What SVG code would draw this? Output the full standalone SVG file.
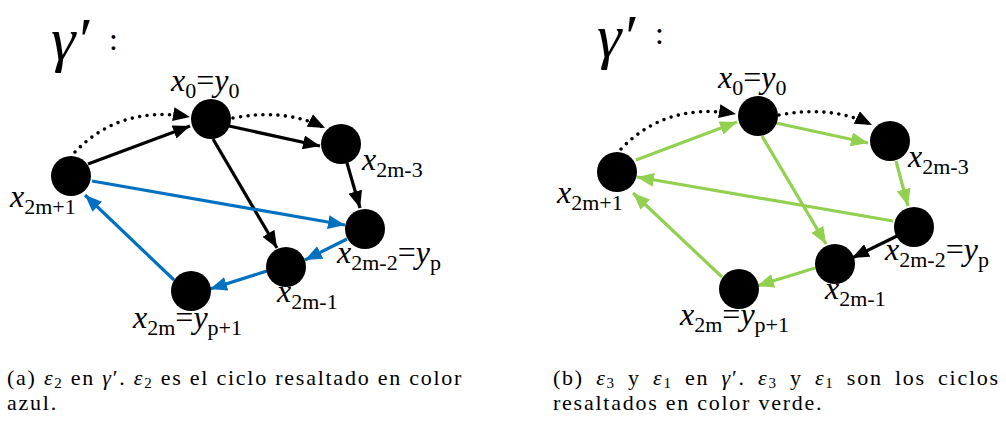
<svg xmlns="http://www.w3.org/2000/svg" width="1006" height="424" viewBox="0 0 1006 424">
<style>
text{font-family:"Liberation Serif",serif;fill:#000}
.node{fill:#000}
.e{fill:none;stroke-width:3.2}
.k{stroke:#000}
.b{stroke:#0070C0}
.g{stroke:#92D050}
.dot{fill:none;stroke:#000;stroke-width:3.6;stroke-linecap:round;stroke-dasharray:0 7.5}
.lbl{font-size:32px}
.it{font-style:italic}
.sub{font-size:22px}
.gam{font-size:62px;font-style:italic}
.colon{font-size:32px}
.cap{font-size:22px;letter-spacing:1.75px}
.cs{font-size:15px}
</style>
<defs>
<marker id="ak" markerUnits="userSpaceOnUse" markerWidth="18" markerHeight="14" refX="17" refY="7" orient="auto"><path d="M0,0 L17,7 L0,14 z" fill="#000"/></marker>
<marker id="ab" markerUnits="userSpaceOnUse" markerWidth="18" markerHeight="14" refX="17" refY="7" orient="auto"><path d="M0,0 L17,7 L0,14 z" fill="#0070C0"/></marker>
<marker id="ag" markerUnits="userSpaceOnUse" markerWidth="18" markerHeight="14" refX="17" refY="7" orient="auto"><path d="M0,0 L17,7 L0,14 z" fill="#92D050"/></marker>
</defs>
<!-- Panel (a) -->
<g id="title-a"><text class="gam" x="51" y="60">γ′</text><text class="colon" x="109" y="50">:</text></g>
<g id="connectors-a">
<path class="dot" d="M75,152 Q120,105 190,117" marker-end="url(#ak)"/>
<path class="dot" d="M233,118 Q285,108 325,128" marker-end="url(#ak)"/>
<line class="e k" x1="88" y1="164" x2="190" y2="126" marker-end="url(#ak)"/>
<line class="e k" x1="229" y1="126" x2="320" y2="146" marker-end="url(#ak)"/>
<line class="e k" x1="213" y1="139" x2="277" y2="248" marker-end="url(#ak)"/>
<line class="e k" x1="347" y1="163" x2="360" y2="208" marker-end="url(#ak)"/>
<line class="e b" x1="92" y1="181" x2="345" y2="225" marker-end="url(#ab)"/>
<line class="e b" x1="347" y1="239" x2="305" y2="260" marker-end="url(#ab)"/>
<line class="e b" x1="267" y1="271" x2="210" y2="289" marker-end="url(#ab)"/>
<line class="e b" x1="174" y1="280" x2="85" y2="195" marker-end="url(#ab)"/>
</g>
<g id="a-x0"><circle class="node" cx="211" cy="119" r="20"/><text class="lbl" x="171" y="91"><tspan class="it">x</tspan><tspan class="sub" dy="7">0</tspan><tspan dy="-7">=</tspan><tspan class="it">y</tspan><tspan class="sub" dy="7">0</tspan></text></g>
<g id="a-x2m3"><circle class="node" cx="341" cy="144" r="20"/><text class="lbl" x="362" y="170"><tspan class="it">x</tspan><tspan class="sub" dy="7">2m-3</tspan></text></g>
<g id="a-x2m2"><circle class="node" cx="365" cy="229" r="20"/><text class="lbl" x="337" y="263"><tspan class="it">x</tspan><tspan class="sub" dy="7">2m-2</tspan><tspan dy="-7">=</tspan><tspan class="it">y</tspan><tspan class="sub" dy="7">p</tspan></text></g>
<g id="a-x2m1"><circle class="node" cx="286" cy="267" r="20"/><text class="lbl" x="277" y="302"><tspan class="it">x</tspan><tspan class="sub" dy="7">2m-1</tspan></text></g>
<g id="a-x2m"><circle class="node" cx="191" cy="291" r="20"/><text class="lbl" x="133" y="328"><tspan class="it">x</tspan><tspan class="sub" dy="7">2m</tspan><tspan dy="-7">=</tspan><tspan class="it">y</tspan><tspan class="sub" dy="7">p+1</tspan></text></g>
<g id="a-x2mp1"><circle class="node" cx="71" cy="176" r="20"/><text class="lbl" x="10" y="207"><tspan class="it">x</tspan><tspan class="sub" dy="7">2m+1</tspan></text></g>

<!-- Panel (b) -->
<g id="title-b"><text class="gam" x="597" y="57">γ′</text><text class="colon" x="655" y="44">:</text></g>
<g id="connectors-b">
<path class="dot" d="M621,149 Q666,102 736,114" marker-end="url(#ak)"/>
<path class="dot" d="M779,115 Q831,105 872,125" marker-end="url(#ak)"/>
<line class="e g" x1="636" y1="160" x2="737" y2="122" marker-end="url(#ag)"/>
<line class="e g" x1="776" y1="123" x2="868" y2="143" marker-end="url(#ag)"/>
<line class="e g" x1="762" y1="136" x2="826" y2="244" marker-end="url(#ag)"/>
<line class="e g" x1="896" y1="161" x2="908" y2="206" marker-end="url(#ag)"/>
<line class="e g" x1="893" y1="221" x2="637" y2="177" marker-end="url(#ag)"/>
<line class="e k" x1="897" y1="236" x2="852" y2="258" marker-end="url(#ak)"/>
<line class="e g" x1="815" y1="268" x2="757" y2="286" marker-end="url(#ag)"/>
<line class="e g" x1="722" y1="277" x2="633" y2="193" marker-end="url(#ag)"/>
</g>
<g id="b-x0"><circle class="node" cx="758" cy="116" r="20"/><text class="lbl" x="718" y="88"><tspan class="it">x</tspan><tspan class="sub" dy="7">0</tspan><tspan dy="-7">=</tspan><tspan class="it">y</tspan><tspan class="sub" dy="7">0</tspan></text></g>
<g id="b-x2m3"><circle class="node" cx="890" cy="141" r="20"/><text class="lbl" x="908" y="167"><tspan class="it">x</tspan><tspan class="sub" dy="7">2m-3</tspan></text></g>
<g id="b-x2m2"><circle class="node" cx="914" cy="227" r="20"/><text class="lbl" x="885" y="260"><tspan class="it">x</tspan><tspan class="sub" dy="7">2m-2</tspan><tspan dy="-7">=</tspan><tspan class="it">y</tspan><tspan class="sub" dy="7">p</tspan></text></g>
<g id="b-x2m1"><circle class="node" cx="835" cy="264" r="20"/><text class="lbl" x="825" y="299"><tspan class="it">x</tspan><tspan class="sub" dy="7">2m-1</tspan></text></g>
<g id="b-x2m"><circle class="node" cx="739" cy="289" r="20"/><text class="lbl" x="680" y="325"><tspan class="it">x</tspan><tspan class="sub" dy="7">2m</tspan><tspan dy="-7">=</tspan><tspan class="it">y</tspan><tspan class="sub" dy="7">p+1</tspan></text></g>
<g id="b-x2mp1"><circle class="node" cx="617" cy="172" r="20"/><text class="lbl" x="557" y="203"><tspan class="it">x</tspan><tspan class="sub" dy="7">2m+1</tspan></text></g>

<!-- Captions -->
<g id="caption-a">
<text class="cap" x="7" y="385">(a) <tspan class="it">ε</tspan><tspan class="cs" dy="3">2</tspan><tspan dy="-3"> en </tspan><tspan class="it">γ</tspan>′. <tspan class="it">ε</tspan><tspan class="cs" dy="3">2</tspan><tspan dy="-3"> es el ciclo resaltado en color</tspan></text>
<text class="cap" x="7" y="410">azul.</text>
</g>
<g id="caption-b">
<text class="cap" x="553" y="385" word-spacing="5">(b) <tspan class="it">ε</tspan><tspan class="cs" dy="3">3</tspan><tspan dy="-3"> y </tspan><tspan class="it">ε</tspan><tspan class="cs" dy="3">1</tspan><tspan dy="-3"> en </tspan><tspan class="it">γ</tspan>′. <tspan class="it">ε</tspan><tspan class="cs" dy="3">3</tspan><tspan dy="-3"> y </tspan><tspan class="it">ε</tspan><tspan class="cs" dy="3">1</tspan><tspan dy="-3"> son los ciclos</tspan></text>
<text class="cap" x="553" y="410">resaltados en color verde.</text>
</g>
</svg>
